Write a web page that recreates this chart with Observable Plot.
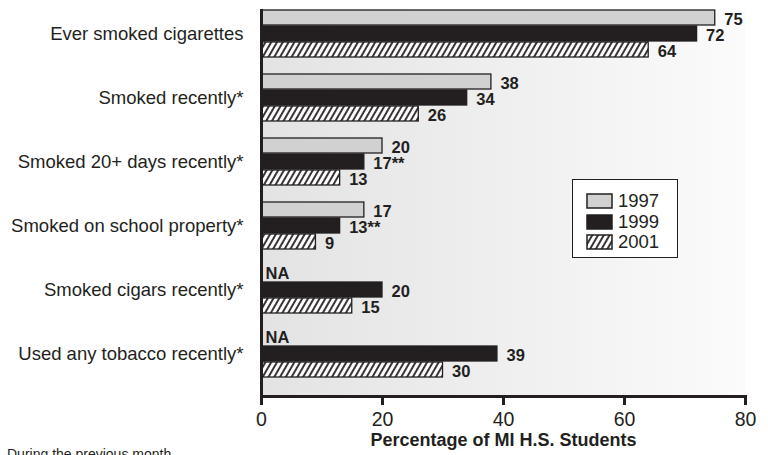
<!DOCTYPE html>
<html>
<head>
<meta charset="utf-8">
<script src="https://cdn.jsdelivr.net/npm/d3@7"></script>
<script src="https://cdn.jsdelivr.net/npm/@observablehq/plot@0.6"></script>
<style>
  body { margin: 0; background: #fff; font-family: "Liberation Sans", Arial, Helvetica, sans-serif; color: #231f20; }
  #wrap { position: relative; width: 768px; height: 455px; overflow: hidden; }
  #chart svg { display: block; overflow: visible; }
  #chart g[aria-label="x-axis label"] text { font-weight: bold; font-size: 18px; }
  .legend { position: absolute; left: 572px; top: 179px; width: 106px; height: 79px; box-sizing: border-box;
            border: 1.5px solid #231f20; background: #fff; padding: 11px 0 0 13px; }
  .legend .row { display: flex; align-items: center; height: 20.5px; font-size: 18.5px; }
  .legend svg { margin-right: 5px; }
  .foot { font-size: 14px; line-height: 14px; margin-left: 7px; margin-top: 3px; }
</style>
</head>
<body>
<div id="wrap">
  <div id="chart"></div>
  <div class="legend" id="legend"></div>
  <div class="foot">During the previous month</div>
</div>
<script>
// Survey items, top to bottom
const categories = [
  "Ever smoked cigarettes",
  "Smoked recently*",
  "Smoked 20+ days recently*",
  "Smoked on school property*",
  "Smoked cigars recently*",
  "Used any tobacco recently*"
];
const years = ["1997", "1999", "2001"];
// Percentage of Michigan high school students (null = not asked that year)
const values1997 = [75, 38, 20, 17, null, null];
const values1999 = [72, 34, 17, 13, 20, 39];
const values2001 = [64, 26, 13, 9, 15, 30];
// Significance markers printed after the 1999 values
const marks1999 = ["", "", "**", "**", "", ""];
const xTicks = [0, 20, 40, 60, 80];

const ink = "#231f20";
const fills = { "1997": "#d1d1d1", "1999": ink, "2001": "url(#hatch)" };

// One row per bar
const rows = [];
categories.forEach((c, i) => {
  [[values1997, ""], [values1999, marks1999[i]], [values2001, ""]].forEach(([vals, note], j) => {
    rows.push({ category: c, year: years[j], key: c + "|" + years[j], value: vals[i],
                label: vals[i] == null ? "NA" : `${vals[i]}${note}` });
  });
});

// band domain: three bars per item plus a spacer between items
const yDomain = [];
categories.forEach((c, i) => {
  years.forEach(y => yDomain.push(c + "|" + y));
  if (i < categories.length - 1) yDomain.push(c + "|gap");
});

const byYear = y => rows.filter(d => d.year === y && d.value != null);
const valued = rows.filter(d => d.value != null);
const missing = rows.filter(d => d.value == null);

const plot = Plot.plot({
  width: 768,
  height: 444,
  marginLeft: 261,
  marginRight: 23,
  marginTop: 9,
  marginBottom: 48,
  style: { fontFamily: "'Liberation Sans', Arial, sans-serif", color: ink, background: "transparent" },
  x: { domain: [0, 80] },
  y: { domain: yDomain, paddingInner: 0.05, paddingOuter: 0.56, align: 0.06, axis: null },
  marks: [
    Plot.frame({ fill: "url(#bg)", stroke: null }),
    ...years.map(y => Plot.barX(byYear(y), {
      x: "value", y: "key", fill: fills[y], stroke: ink, strokeWidth: 1.3
    })),
    Plot.text(valued, {
      x: "value", y: "key", text: "label",
      dx: 9, dy: 2, textAnchor: "start", fontWeight: "bold", fontSize: 16.5, fill: ink
    }),
    Plot.text(missing, {
      x: 0, y: "key", text: "label",
      dx: 4, dy: 0, textAnchor: "start", fontWeight: "bold", fontSize: 16.5, fill: ink
    }),
    Plot.text(categories, {
      frameAnchor: "left", y: c => c + "|1999", text: c => c,
      textAnchor: "end", dx: -18, fontSize: 18.5, fill: ink
    }),
    Plot.ruleX([0], { stroke: ink, strokeWidth: 3 }),
    Plot.frame({ anchor: "bottom", stroke: ink, strokeWidth: 3 }),
    Plot.axisX({
      ticks: xTicks, tickSize: 9, tickPadding: 7, fontSize: 19.5, strokeWidth: 3,
      stroke: ink, fill: ink,
      label: "Percentage of MI H.S. Students", labelAnchor: "center", labelArrow: "none", labelOffset: 49
    })
  ]
});

const svg = d3.select(plot);
const defs = svg.insert("defs", ":first-child");
const grad = defs.append("linearGradient").attr("id", "bg").attr("x1", 0).attr("x2", 1).attr("y1", 0).attr("y2", 0);
grad.append("stop").attr("offset", "0%").attr("stop-color", "#e3e3e3");
grad.append("stop").attr("offset", "100%").attr("stop-color", "#fbfbfb");
const pat = defs.append("pattern").attr("id", "hatch").attr("patternUnits", "userSpaceOnUse")
  .attr("width", 5).attr("height", 5).attr("patternTransform", "rotate(30)");
pat.append("rect").attr("width", 5).attr("height", 5).attr("fill", "#fff");
pat.append("line").attr("x1", 1).attr("y1", 0).attr("x2", 1).attr("y2", 5)
  .attr("stroke", ink).attr("stroke-width", 1.8);

document.getElementById("chart").appendChild(plot);

// Legend
const legend = d3.select("#legend");
years.forEach(y => {
  const row = legend.append("div").attr("class", "row");
  const sw = row.append("svg").attr("width", 27).attr("height", 16);
  sw.append("rect").attr("x", 1).attr("y", 1).attr("width", 25).attr("height", 14)
    .attr("fill", fills[y]).attr("stroke", ink).attr("stroke-width", 1.5);
  row.append("span").text(y);
});
</script>
</body>
</html>
